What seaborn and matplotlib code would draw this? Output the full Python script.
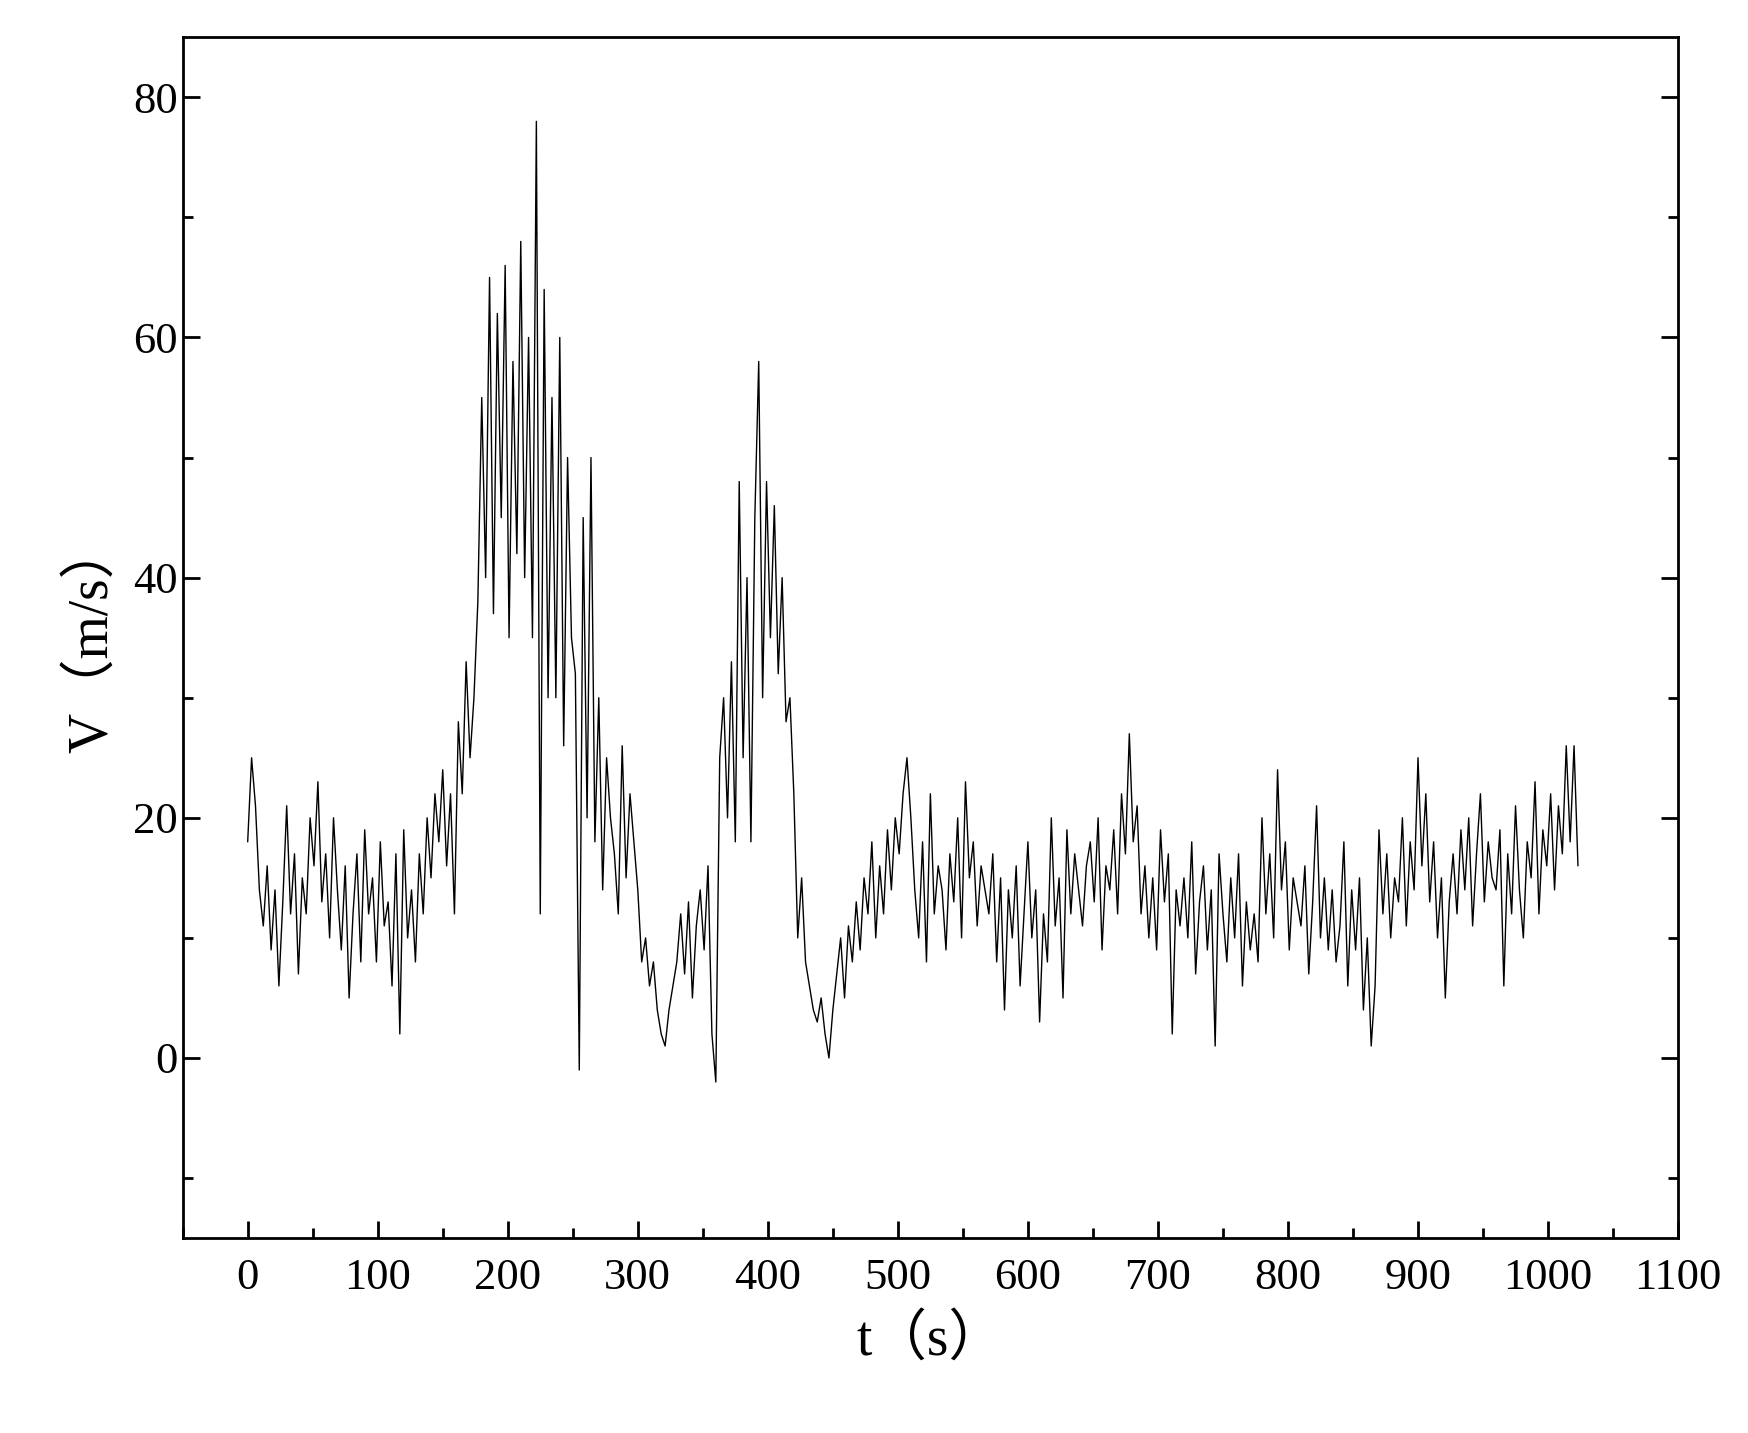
import numpy as np
import matplotlib
matplotlib.use("Agg")
import matplotlib.pyplot as plt
import seaborn as sns
import pandas as pd
from matplotlib.ticker import MultipleLocator

v = [18,25,21,14,11,16,9,14,6,13, 21,12,17,7,15,12,20,16,23,13,
     17,10,20,14,9,16,5,12,17,8, 19,12,15,8,18,11,13,6,17,2,
     19,10,14,8,17,12,20,15,22,18, 24,16,22,12,28,22,33,25,30,38,
     55,40,65,37,62,45,66,35,58,42, 68,40,60,35,78,12,64,30,55,30,
     60,26,50,35,32,-1,45,20,50,18, 30,14,25,20,17,12,26,15,22,18,
     14,8,10,6,8,4,2,1,4,6, 8,12,7,13,5,11,14,9,16,2,
     -2,25,30,20,33,18,48,25,40,18, 45,58,30,48,35,46,32,40,28,30,
     22,10,15,8,6,4,3,5,2,0, 4,7,10,5,11,8,13,9,15,12,
     18,10,16,12,19,14,20,17,22,25, 20,14,10,18,8,22,12,16,14,9,
     17,13,20,10,23,15,18,11,16,14, 12,17,8,15,4,14,10,16,6,12,
     18,10,14,3,12,8,20,11,15,5, 19,12,17,14,11,16,18,13,20,9,
     16,14,19,12,22,17,27,18,21,12, 16,10,15,9,19,13,17,2,14,11,
     15,10,18,7,13,16,9,14,1,17, 12,8,15,10,17,6,13,9,12,8,
     20,12,17,10,24,14,18,9,15,13, 11,16,7,13,21,10,15,9,14,8,
     11,18,6,14,9,15,4,10,1,6, 19,12,17,10,15,13,20,11,18,14,
     25,16,22,13,18,10,15,5,13,17, 12,19,14,20,11,17,22,13,18,15,
     14,19,6,17,12,21,14,10,18,15, 23,12,19,16,22,14,21,17,26,18,
     26,16]
t = np.arange(len(v)) * 3.0

sns.set_style("white")
plt.rcParams['font.family'] = ['Liberation Serif', 'Noto Sans CJK SC']
plt.rcParams['text.color'] = 'black'
plt.rcParams['xtick.color'] = 'black'
plt.rcParams['ytick.color'] = 'black'
plt.rcParams['axes.labelcolor'] = 'black'

fig = plt.figure(figsize=(17.48, 14.33), dpi=100)
ax = fig.add_axes([0.1045, 0.136, 0.8555, 0.838])
sns.lineplot(x=t, y=v, ax=ax, color='black', linewidth=1.0)
ax.set_xlim(-50, 1100)
ax.set_ylim(-15, 85)
ax.xaxis.set_major_locator(MultipleLocator(100))
ax.xaxis.set_minor_locator(MultipleLocator(50))
ax.yaxis.set_major_locator(MultipleLocator(20))
ax.yaxis.set_minor_locator(MultipleLocator(10))
ax.tick_params(which='both', direction='in', width=2, top=False, right=True,
               left=True, bottom=True, labelsize=32)
ax.tick_params(axis='x', which='major', pad=14)
ax.tick_params(which='major', length=12)
ax.tick_params(which='minor', length=7)
for s in ax.spines.values():
    s.set_linewidth(2); s.set_color('black')
ax.set_xlabel("t（s）", fontsize=40, labelpad=12)
ax.set_ylabel("V（m/s）", fontsize=40, labelpad=10)
fig.savefig("out.png", dpi=100)
